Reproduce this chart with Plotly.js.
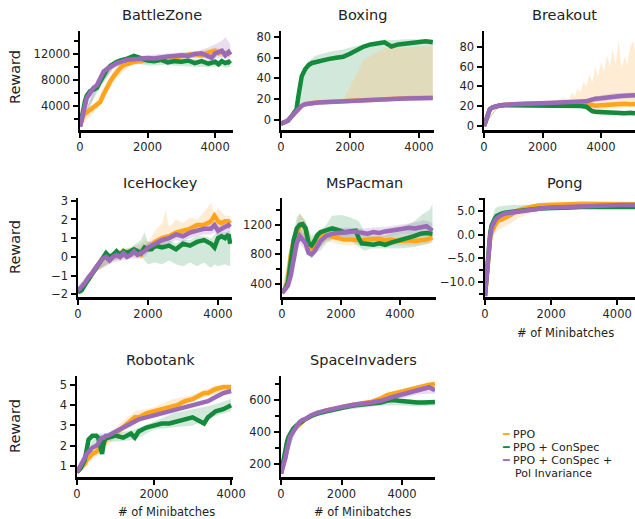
<!DOCTYPE html>
<html><head><meta charset="utf-8">
<script src="https://cdn.plot.ly/plotly-3.0.1.min.js"></script>
<style>body{margin:0;padding:0;background:#fff}#chart{width:635px;height:519px}</style>
</head><body><div id="chart"></div>
<script>
// ---------------- DATA ----------------
const seriesNames = ["PPO", "PPO + ConSpec", "PPO + ConSpec + Pol Invariance"];
const panelTitles = ["BattleZone","Boxing","Breakout","IceHockey","MsPacman","Pong","Robotank","SpaceInvaders"];

// BattleZone
const bzX   = [0,50,100,150,200,300,400,500,600,700,800,900,1000,1100,1200,1300,1400,1600,1800,2000,2200,2400,2600,2800,3000,3200,3400,3600,3800,3900,4000,4100,4200,4300,4400,4450];
const bzPPO = [900,1800,2500,2800,3000,3300,3700,4000,4600,5800,7000,7800,8600,9400,9900,10300,10500,10800,10900,11200,11000,11300,11500,11400,11700,11900,12000,11800,12200,12300,12500,12100,12400,12000,12300,11900];
const bzCON = [900,2500,3800,4800,5600,6300,6500,6800,7800,8800,9600,10200,10600,10800,11000,11100,11300,11700,11300,11000,10900,11100,10700,10900,10800,11000,10600,10900,10500,10700,10800,10400,10900,10600,10800,10500];
const bzPOL = [800,2000,3300,4300,5200,6000,6800,7200,8300,9300,9700,10000,10400,10600,10800,11000,11100,11200,11300,11400,11300,11500,11600,11700,11800,11700,12000,12100,11600,11400,12100,12300,12500,11800,12300,11900];
const bzBX     = [0,500,1000,1500,2000,2500,3000,3500,3800,4000,4200,4300,4450];
const bzPPOhi  = [1000,5000,9500,11500,11600,11800,12100,12400,12800,13000,12800,12600,12400];
const bzPPOlo  = [800,3500,7800,10300,10500,10800,11200,11300,11500,11700,11600,11500,11500];
const bzCONhi  = [1000,7500,11000,11800,11500,11300,11200,11200,11100,11200,11000,11100,11000];
const bzCONlo  = [800,6000,10000,10800,10200,10300,10200,10000,10000,10000,10100,9900,10000];
const bzPOLhi  = [900,8000,11000,11600,11800,12000,12300,12500,13000,13500,14000,14600,13500];
const bzPOLlo  = [700,6500,9800,10600,11000,11000,11300,11400,11200,11400,11500,11300,11400];

// Boxing
const bxX   = [0,100,200,300,400,450,500,550,600,700,800,900,1000,1100,1200,1400,1600,1800,2000,2200,2400,2600,2800,3000,3100,3200,3400,3600,3800,4000,4200,4400];
const bxCON = [-4,-3,-1,3,7,10,22,34,42,49,53,55,56,56,57,59,60,61,64,68,71,73,74,75,73,71,73,74,74,75,76,75];
const bxPPO = [-4,-3,-1,3,7,9,11,12.5,13.5,15,15.8,16.2,16.5,16.8,17,17.3,17.6,18,18.3,18.8,19.2,19.5,19.8,20,20.2,20.3,20.5,20.8,21,21.1,21.3,21.2];
const bxPOL = [-4,-3,-1,3,7,9,11,12.5,13.5,15,15.8,16.2,16.5,16.7,16.9,17.2,17.5,17.9,18.2,18.6,19,19.3,19.6,19.8,19.9,20.1,20.3,20.5,20.7,20.9,21,21];
const bxBX    = [0,200,400,500,600,800,1000,1400,1800,2000,2400,2800,3000,3200,3600,4000,4400];
const bxCONhi = [-3,0,9,25,45,57,62,66,68,70,73,76,78,77,78,78,78];
const bxCONlo = [-5,-2,5,9,12,15,16,17,17.5,18,19,19.5,20,20,20.5,21,21];
const bxPPOhi = [-3,0,8,11,14,16,17,17.5,19,32,58,66,69,70,70,71,71];
const bxPPOlo = [-5,-2,5,9,12,15,15.5,16.3,17,17.3,18.2,18.8,19,19.3,19.8,20.1,20.2];

// Breakout
const brX   = [0,50,100,150,200,300,400,500,700,900,1200,1500,1800,2100,2400,2700,3000,3300,3500,3600,3700,3800,4000,4200,4400,4600,4800,5000,5160];
const brPPO = [0,5,11,15,17,19,20,20.5,21.5,22,22.5,22.8,23,23,23.2,23.5,23.4,23.6,23.5,22,21,20.5,21,21.5,22,22,22.5,22,22.3];
const brCON = [0,5,11,15,17,19,20,20.5,21,21,21,20.8,20.5,20.6,20.5,20.4,20.5,20.3,19.5,17,15,14.5,14,13.5,13.8,13.2,13,13.3,13];
const brPOL = [0,5,11,15,17,19,20,20.5,21.5,22,22.3,22.5,22.8,23,23.3,23.8,24,24.5,25,26,27,27.5,28,29,29.5,30,30.5,31,31];
const brPPObx = [0,500,1000,2000,2500,2700,2900,3000,3100,3200,3300,3400,3500,3600,3700,3800,3900,4000,4100,4200,4300,4400,4500,4600,4700,4800,4900,5000,5100,5160];
const brPPOhi = [1,21,23,24,26,29,27,33,30,38,34,45,40,52,44,60,50,65,55,72,60,78,62,88,58,70,62,80,86,75];
const brPPOlo = [0,19,21,22,22,22,22,22,22,21,21,20,19,17,16,16,16,17,17,17,18,18,18,18,18,19,19,19,19,19];
const brCONbx = [0,500,1000,2000,3000,3400,3600,3800,4200,4600,5000,5160];
const brCONhi = [1,21,21.5,21.5,21.5,21,19,17,16,15.5,15,15];
const brCONlo = [0,20,20,19.5,19.5,18,14,12,11,10.5,10.5,10.5];
const brPOLbx = [0,500,1000,2000,3000,3500,4000,4500,5000,5160];
const brPOLhi = [1,21,23,24,25.5,27.5,31,33,34,34];
const brPOLlo = [0,20,21.5,22,22.5,23,25,27,28,28];

// IceHockey
const ihX   = [0,100,200,300,400,500,600,700,800,900,1000,1100,1200,1300,1400,1500,1600,1700,1800,1900,2000,2100,2200,2400,2600,2800,3000,3200,3400,3600,3800,3900,4000,4100,4200,4300,4350];
const ihPPO = [-1.9,-1.7,-1.4,-1.2,-0.9,-0.6,-0.3,-0.1,0.1,-0.1,0.0,0.2,0.0,0.3,0.1,0.2,0.3,0.2,0.1,0.4,0.5,0.6,0.8,1.0,1.1,1.3,1.4,1.5,1.7,1.7,1.9,2.2,1.9,1.8,1.9,1.9,1.8];
const ihCON = [-1.9,-1.8,-1.5,-1.2,-0.9,-0.6,-0.3,0.0,0.2,0.0,0.1,0.3,0.1,0.3,0.2,0.3,0.4,0.3,0.2,0.5,0.4,0.4,0.6,0.5,0.6,0.4,0.7,0.6,0.8,0.9,0.7,0.5,1.0,1.1,1.0,1.2,0.7];
const ihPOL = [-1.8,-1.6,-1.4,-1.1,-0.9,-0.6,-0.3,-0.1,0.0,-0.2,0.0,0.1,0.0,0.2,0.0,0.1,0.3,0.1,0.2,0.3,0.5,0.6,0.7,0.9,1.0,1.2,1.1,1.3,1.4,1.5,1.5,1.7,1.4,1.5,1.6,1.7,1.6];
const ihBX    = [0,500,1000,1500,1800,1900,2000,2200,2400,2500,2600,2800,3000,3200,3400,3600,3800,3900,4000,4200,4350];
const ihCONhi = [-1.7,-0.4,0.3,0.5,0.9,1.3,0.8,0.8,0.8,0.9,0.9,0.7,0.9,0.9,1.1,1.1,1.0,1.2,1.3,1.3,1.4];
const ihCONlo = [-2.0,-0.8,-0.2,0.0,0.1,-0.2,-0.4,-0.3,-0.4,-0.3,-0.2,-0.4,-0.5,-0.3,-0.5,-0.3,-0.6,-0.4,-0.5,-0.4,-0.5];
const ihPPOhi = [-1.7,-0.4,0.3,0.5,0.7,0.9,0.8,1.4,1.8,2.5,1.6,2.0,1.8,2.1,2.0,2.4,2.9,2.3,2.6,2.2,2.2];
const ihPPOlo = [-2.0,-0.8,-0.2,0.0,0.0,0.2,0.3,0.4,0.6,0.8,0.9,1.0,1.1,1.2,1.3,1.5,1.6,1.5,1.5,1.5,1.5];
const ihPOLhi = [-1.6,-0.4,0.2,0.4,0.5,0.6,0.8,0.9,1.1,1.2,1.2,1.4,1.4,1.6,1.7,1.8,1.8,1.9,1.8,1.9,1.9];
const ihPOLlo = [-2.0,-0.8,-0.3,-0.1,-0.1,0.0,0.2,0.4,0.6,0.7,0.7,0.9,0.8,1.0,1.1,1.2,1.2,1.3,1.1,1.2,1.3];

// MsPacman
const mpX   = [0,100,200,300,400,500,600,700,800,900,1000,1100,1200,1300,1500,1700,1900,2100,2300,2500,2600,2700,2900,3100,3300,3500,3700,3900,4100,4300,4500,4700,4900,5100];
const mpCON = [290,330,420,700,1000,1150,1200,1210,1150,950,920,980,1060,1100,1120,1150,1130,1100,1110,1120,1020,950,940,930,950,930,960,980,1000,1030,1050,1080,1090,1080];
const mpPOL = [280,320,380,520,750,950,1050,1000,950,820,800,840,900,980,1050,1080,1090,1100,1100,1110,1100,1090,1080,1100,1090,1110,1120,1140,1150,1160,1150,1170,1180,1120];
const mpPPO = [290,340,450,800,1000,1100,1180,1200,1150,950,880,900,960,1050,1060,1040,1020,1000,1000,990,980,990,1000,1000,1010,990,1000,980,990,990,980,990,1000,1030];
const mpBX    = [0,300,500,600,800,1000,1300,1500,1700,2000,2300,2600,2800,3000,3500,4000,4500,4800,5000,5100];
const mpCONhi = [300,900,1300,1350,1250,1050,1120,1200,1320,1330,1300,1250,1100,1050,1050,1150,1250,1350,1400,1480];
const mpCONlo = [280,500,1000,1050,900,800,850,950,1000,1000,1000,900,850,880,880,880,900,930,950,980];
const mpPPOhi = [300,950,1200,1350,1250,1000,1100,1120,1100,1080,1060,1060,1060,1070,1060,1060,1050,1060,1080,1090];
const mpPPOlo = [280,600,950,1050,1000,820,900,980,960,930,930,920,930,930,920,920,920,930,940,960];
const mpPOLhi = [300,600,1050,1150,1050,900,1050,1120,1140,1160,1160,1150,1150,1160,1170,1200,1230,1260,1240,1230];
const mpPOLlo = [280,450,850,950,850,740,900,990,1010,1040,1040,1040,1030,1040,1040,1070,1080,1080,1080,1050];

// Pong
const pgX   = [0,40,80,120,160,200,250,300,350,400,500,600,700,800,900,1000,1200,1400,1600,1800,2000,2300,2600,2900,3200,3500,3800,4100,4400,4540];
const pgPPO = [-13,-10,-6,-2,-0.5,0.5,1.5,2,2.5,3,3.2,3.5,4,4.3,4.8,5.2,5.6,6,6.2,6.3,6.4,6.5,6.5,6.6,6.6,6.7,6.6,6.7,6.6,6.5];
const pgCON = [-13,-9,-5,-1.5,0.5,2,3,3.5,4,4.2,4.5,4.7,4.8,4.9,5,5.1,5.3,5.4,5.5,5.6,5.7,5.8,5.8,5.9,5.9,5.9,6,6,5.9,5.9];
const pgPOL = [-13,-9,-5,-1.5,0,1.5,2.5,3,3.5,3.8,4.2,4.5,4.6,4.8,4.9,5,5.3,5.5,5.6,5.7,5.8,5.9,6,6,6.1,6.2,6.2,6.3,6.3,6.3];
const pgBX    = [0,100,200,300,400,600,800,1000,1500,2000,3000,4000,4540];
const pgCONhi = [-12,-3,3,5.5,6,6.2,6.3,6.3,6.4,6.3,6.3,6.4,6.3];
const pgCONlo = [-13.5,-8,0,2,3,3.8,4.2,4.5,5,5.2,5.5,5.6,5.6];
const pgPPOhi = [-12,-4,2,3.5,4,4.5,5,5.5,6.3,6.8,6.9,7,6.9];
const pgPPOlo = [-13.5,-9,-1,0.5,1,1.8,2.5,3.5,5,5.8,6.1,6.2,6.1];

// Robotank
const rtX   = [0,100,200,250,300,400,500,550,600,650,700,750,800,1000,1200,1400,1500,1600,1800,2000,2200,2400,2600,2800,3000,3200,3300,3400,3600,3800,4000];
const rtPPO = [0.7,0.9,1.1,1.3,1.4,1.6,1.7,1.8,1.9,2.0,2.1,2.3,2.4,2.6,2.9,3.2,3.4,3.4,3.6,3.7,3.8,3.9,4.0,4.2,4.3,4.5,4.6,4.6,4.8,4.9,4.9];
const rtPOL = [0.7,1.0,1.4,1.6,1.7,1.9,2.0,2.1,2.3,2.4,2.4,2.5,2.5,2.7,2.9,3.1,3.2,3.3,3.4,3.5,3.6,3.7,3.8,3.9,4.0,4.1,4.2,4.2,4.4,4.6,4.7];
const rtCON = [0.7,0.9,1.3,2.0,2.3,2.5,2.5,2.4,2.0,1.6,2.2,2.4,2.4,2.5,2.4,2.6,2.4,2.7,2.9,3.0,3.1,3.1,3.2,3.3,3.4,3.2,3.1,3.4,3.7,3.8,4.0];
const rtBX    = [0,500,1000,1500,2000,2500,3000,3500,4000];
const rtPPOhi = [0.8,1.9,2.9,3.7,3.9,4.3,4.5,4.9,5.0];
const rtPPOlo = [0.6,1.5,2.4,3.1,3.5,3.8,4.2,4.5,4.7];
const rtCONhi = [0.8,2.6,2.6,2.8,3.2,3.6,3.8,4.0,4.3];
const rtCONlo = [0.6,2.2,2.2,2.3,2.8,2.9,3.0,3.4,3.7];

// SpaceInvaders
const siX   = [0,50,100,150,200,250,300,400,500,600,700,800,1000,1200,1500,1800,2100,2400,2700,3000,3300,3500,3700,3900,4100,4300,4500,4700,4900,5090];
const siPPO = [140,180,230,270,310,350,380,410,430,450,470,480,500,520,535,550,560,570,580,590,610,630,640,650,660,670,680,690,695,700];
const siCON = [140,200,250,300,340,370,390,420,440,455,470,480,500,515,530,545,555,565,570,580,585,595,600,595,590,590,585,585,590,588];
const siPOL = [140,170,200,240,290,340,370,400,430,460,475,480,505,520,535,550,560,570,575,585,595,610,620,630,640,650,660,665,680,660];
const siBX    = [0,500,1000,2000,3000,3500,4000,4500,5090];
const siCONhi = [150,450,510,560,590,600,605,600,600];
const siCONlo = [130,420,490,535,560,565,565,560,565];
const siPOLhi = [150,440,515,565,595,620,650,675,690];
const siPOLlo = [130,420,495,540,570,590,610,635,640];

// ---------------- STYLE / BUILD ----------------
const COL = {ppo:"#FFA41B", con:"#138A3C", pol:"#9B6BB8"};
const FILL = {ppo:"rgba(255,195,120,0.32)", con:"rgba(30,140,70,0.20)", pol:"rgba(155,107,184,0.22)"};
const W = 635, H = 519;

const traces = [];
function band(ax, bx, hi, lo, key){
  traces.push({x: bx.concat(bx.slice().reverse()), y: hi.concat(lo.slice().reverse()),
    xaxis:"x"+ax, yaxis:"y"+ax, type:"scatter", mode:"lines", fill:"toself",
    fillcolor: FILL[key], line:{width:0, color:FILL[key]}, hoverinfo:"skip", showlegend:false});
}
function line(ax, x, y, key, name){
  traces.push({x:x, y:y, xaxis:"x"+ax, yaxis:"y"+ax, type:"scatter", mode:"lines",
    line:{color:COL[key], width:4.5, shape:"linear"}, name:name, showlegend:false});
}

// 1 BattleZone
band(1,bzBX,bzPPOhi,bzPPOlo,"ppo"); band(1,bzBX,bzCONhi,bzCONlo,"con"); band(1,bzBX,bzPOLhi,bzPOLlo,"pol");
line(1,bzX,bzPPO,"ppo",seriesNames[0]); line(1,bzX,bzCON,"con",seriesNames[1]); line(1,bzX,bzPOL,"pol",seriesNames[2]);
// 2 Boxing
band(2,bxBX,bxCONhi,bxCONlo,"con"); band(2,bxBX,bxPPOhi,bxPPOlo,"ppo");
line(2,bxX,bxPPO,"ppo",seriesNames[0]); line(2,bxX,bxCON,"con",seriesNames[1]); line(2,bxX,bxPOL,"pol",seriesNames[2]);
// 3 Breakout
band(3,brPPObx,brPPOhi,brPPOlo,"ppo"); band(3,brCONbx,brCONhi,brCONlo,"con"); band(3,brPOLbx,brPOLhi,brPOLlo,"pol");
line(3,brX,brPPO,"ppo",seriesNames[0]); line(3,brX,brCON,"con",seriesNames[1]); line(3,brX,brPOL,"pol",seriesNames[2]);
// 4 IceHockey
band(4,ihBX,ihPPOhi,ihPPOlo,"ppo"); band(4,ihBX,ihCONhi,ihCONlo,"con"); band(4,ihBX,ihPOLhi,ihPOLlo,"pol");
line(4,ihX,ihPPO,"ppo",seriesNames[0]); line(4,ihX,ihCON,"con",seriesNames[1]); line(4,ihX,ihPOL,"pol",seriesNames[2]);
// 5 MsPacman
band(5,mpBX,mpPPOhi,mpPPOlo,"ppo"); band(5,mpBX,mpCONhi,mpCONlo,"con"); band(5,mpBX,mpPOLhi,mpPOLlo,"pol");
line(5,mpX,mpPPO,"ppo",seriesNames[0]); line(5,mpX,mpCON,"con",seriesNames[1]); line(5,mpX,mpPOL,"pol",seriesNames[2]);
// 6 Pong
band(6,pgBX,pgPPOhi,pgPPOlo,"ppo"); band(6,pgBX,pgCONhi,pgCONlo,"con");
line(6,pgX,pgPPO,"ppo",seriesNames[0]); line(6,pgX,pgCON,"con",seriesNames[1]); line(6,pgX,pgPOL,"pol",seriesNames[2]);
// 7 Robotank
band(7,rtBX,rtPPOhi,rtPPOlo,"ppo"); band(7,rtBX,rtCONhi,rtCONlo,"con");
line(7,rtX,rtPPO,"ppo",seriesNames[0]); line(7,rtX,rtCON,"con",seriesNames[1]); line(7,rtX,rtPOL,"pol",seriesNames[2]);
// 8 SpaceInvaders
band(8,siBX,siCONhi,siCONlo,"con"); band(8,siBX,siPOLhi,siPOLlo,"pol");
line(8,siX,siPPO,"ppo",seriesNames[0]); line(8,siX,siCON,"con",seriesNames[1]); line(8,siX,siPOL,"pol",seriesNames[2]);

// axis geometry (pixels)
const xpx = [[80,233],[281,434],[484,635],[78,232],[282,436],[485,635],[77,233],[281,435]];
const ypx = [[31,130],[31,130],[31,130],[198,297],[198,297],[198,297],[376,477],[376,477]];
const xr  = [[0,4530],[0,4435],[0,5160],[0,4400],[0,5220],[0,4540],[0,4050],[0,5090]];
const yr  = [[300,15540],[-10,86],[-4,96],[-2.15,3.15],[227,1560],[-13.2,7.8],[0.46,5.44],[119,750]];
const ytick = [{tick0:0,dtick:4000,minor:2000,fmt:"d"},{tick0:0,dtick:20},{tick0:0,dtick:20},{tick0:0,dtick:1},
               {tick0:0,dtick:400,minor:200},{tick0:0,dtick:5,minor:2.5,fmt:".1f"},{tick0:0,dtick:1},{tick0:0,dtick:200,minor:100}];

const FONT = "DejaVu Sans, Verdana, sans-serif";
const layout = {width:W, height:H, margin:{l:0,r:0,t:0,b:0}, paper_bgcolor:"#fff", plot_bgcolor:"#fff",
  showlegend:false, font:{family:FONT, size:11, color:"#262626"}, annotations:[]};

for (let i=0;i<8;i++){
  const k = i+1;
  const xa = {domain:[xpx[i][0]/W, xpx[i][1]/W], range:xr[i], anchor:"y"+k, showgrid:false, zeroline:false,
    showline:true, linecolor:"#000", linewidth:2.5, ticks:"outside", ticklen:5, tickwidth:2, tickcolor:"#000",
    tickmode:"array", tickvals:[0,2000,4000], ticktext:["0","2000","4000"], tickfont:{size:11.5,color:"#262626"}, fixedrange:true};
  const t = ytick[i];
  const ya = {domain:[1-ypx[i][1]/H, 1-ypx[i][0]/H], range:yr[i], anchor:"x"+k, showgrid:false, zeroline:false,
    showline:true, linecolor:"#000", linewidth:2.5, ticks:"outside", ticklen:5, tickwidth:2, tickcolor:"#000",
    tick0:t.tick0, dtick:t.dtick, tickfont:{size:11.5,color:"#262626"}, fixedrange:true};
  if (t.fmt) ya.tickformat = t.fmt;
  if (t.minor) ya.minor = {dtick:t.minor, tick0:t.tick0, ticks:"outside", ticklen:4, tickwidth:2, tickcolor:"#000", showgrid:false};
  layout["xaxis"+(k===1?"":k)] = xa;
  layout["yaxis"+(k===1?"":k)] = ya;
  layout.annotations.push({text:panelTitles[i], xref:"paper", yref:"paper",
    x:((xpx[i][0]+xpx[i][1])/2+5)/W, y:1-(i<3?15:(i<6?183:360))/H, xanchor:"center", yanchor:"middle",
    showarrow:false, font:{size:14.5, color:"#222", family:FONT}});
}
// y labels
[77,247,426].forEach(py=>layout.annotations.push({text:"Reward", xref:"paper", yref:"paper", x:15/W, y:1-py/H,
  textangle:-90, xanchor:"center", yanchor:"middle", showarrow:false, font:{size:14.5,color:"#222",family:FONT}}));
// x labels
[[565,333],[166,512],[362,512]].forEach(p=>layout.annotations.push({text:"# of Minibatches", xref:"paper", yref:"paper",
  x:p[0]/W, y:1-p[1]/H, xanchor:"center", yanchor:"middle", showarrow:false, font:{size:11.5,color:"#222",family:FONT}}));
// legend
const legKeys = ["ppo","con","pol"];
const legText = ["PPO","PPO + ConSpec","PPO + ConSpec +"];
[434,447,460].forEach((py,j)=>layout.annotations.push({text:'<span style="color:'+COL[legKeys[j]]+'">━</span> '+legText[j],
  xref:"paper", yref:"paper", x:500/W, y:1-py/H, xanchor:"left", yanchor:"middle", showarrow:false,
  font:{size:11,color:"#222",family:FONT}}));
layout.annotations.push({text:"Pol Invariance", xref:"paper", yref:"paper", x:513/W, y:1-473/H, xanchor:"left",
  yanchor:"middle", showarrow:false, font:{size:11,color:"#222",family:FONT}});

Plotly.newPlot("chart", traces, layout, {staticPlot:true, displayModeBar:false});
</script></body></html>
